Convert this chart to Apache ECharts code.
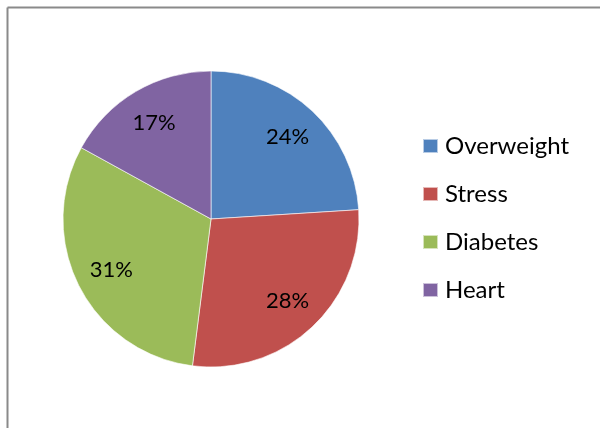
<!DOCTYPE html>
<html>
<head>
<meta charset="utf-8">
<script src="https://cdn.jsdelivr.net/npm/echarts@6/dist/echarts.min.js"></script>
<style>
html,body{margin:0;padding:0;background:#fff;}
#chart{width:600px;height:428px;}
</style>
</head>
<body>
<div id="chart"></div>
<script>
const categories = ['Overweight', 'Stress', 'Diabetes', 'Heart'];
const values = [24, 28, 31, 17];
const colors = ['#4F81BD', '#C0504D', '#9BBB59', '#8064A2'];

const data = categories.map((c, i) => ({ name: c, value: values[i] }));
const FONT = 'Lato';

const chart = echarts.init(document.getElementById('chart'), null, { renderer: 'canvas' });
chart.setOption({
  animation: false,
  color: colors,
  graphic: [
    { type: 'line', shape: { x1: 7.5, y1: 7.5, x2: 600, y2: 7.5 }, style: { stroke: '#8a8a8a', lineWidth: 2 } },
    { type: 'line', shape: { x1: 7.5, y1: 7.5, x2: 7.5, y2: 428 }, style: { stroke: '#8a8a8a', lineWidth: 2 } }
  ],
  legend: {
    orient: 'vertical',
    left: 422,
    top: 134,
    padding: 0,
    itemWidth: 15,
    itemHeight: 14,
    itemGap: 24,
    icon: 'rect',
    textStyle: { fontFamily: FONT, fontSize: 24, lineHeight: 24, color: '#000', padding: [0, 0, 0, 2] },
    data: categories
  },
  series: [
    {
      type: 'pie',
      center: [211, 219],
      radius: [0, 148],
      startAngle: 90,
      clockwise: true,
      silent: true,
      label: { show: false },
      labelLine: { show: false },
      itemStyle: { borderColor: 'rgba(255,255,255,0.6)', borderWidth: 1 },
      data: data
    },
    {
      type: 'pie',
      center: [211, 219],
      radius: [70, 148],
      startAngle: 90,
      clockwise: true,
      silent: true,
      legendHoverLink: false,
      itemStyle: { color: 'rgba(0,0,0,0)' },
      label: {
        show: true,
        position: 'inside',
        formatter: '{d}%',
        fontFamily: FONT,
        fontSize: 22,
        color: '#000'
      },
      labelLine: { show: false },
      data: data
    }
  ]
});
</script>
</body>
</html>
